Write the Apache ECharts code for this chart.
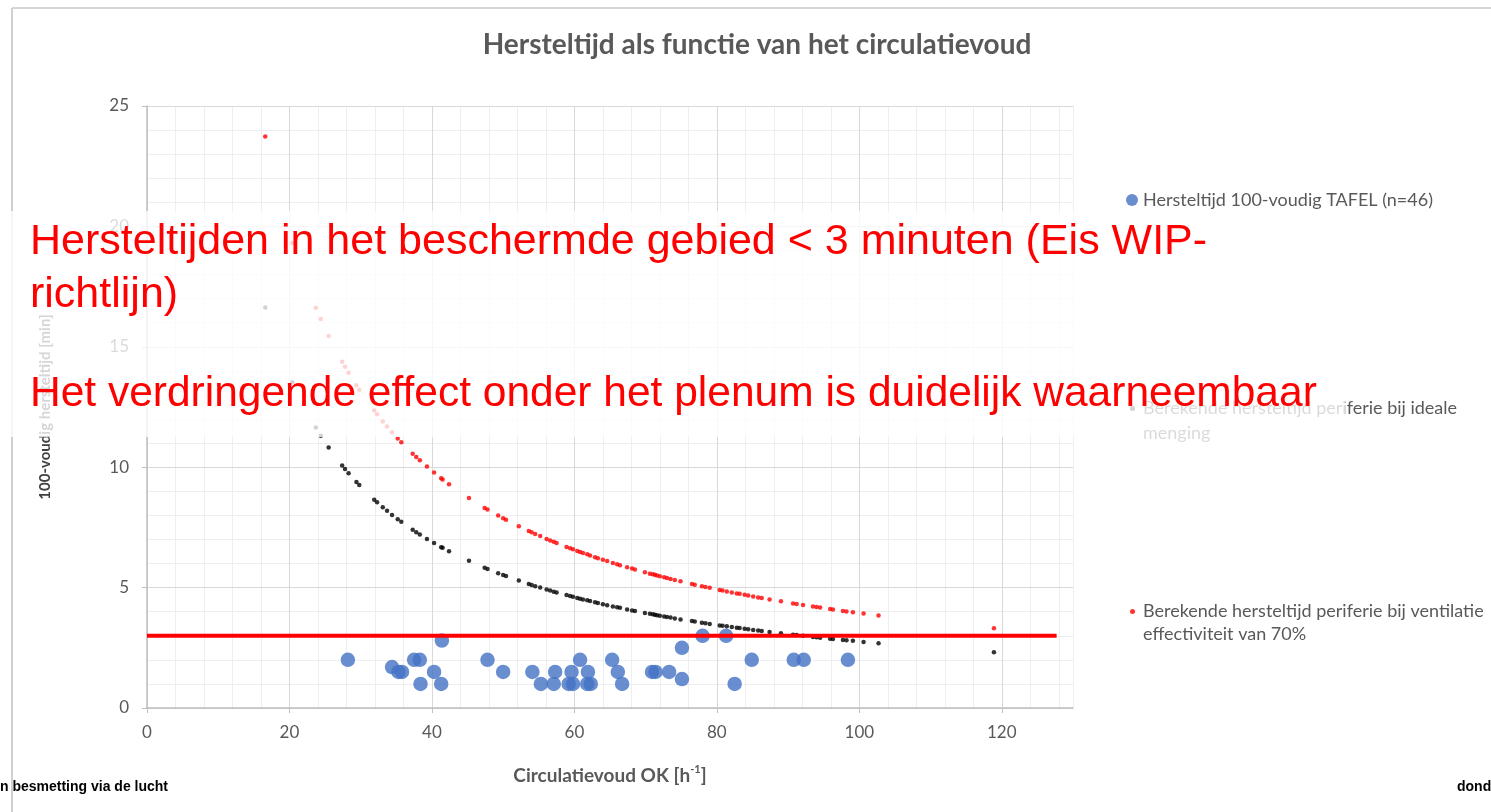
<!DOCTYPE html>
<html>
<head>
<meta charset="utf-8">
<script src="https://cdn.jsdelivr.net/npm/echarts@6/dist/echarts.min.js"></script>
<style>
html,body{margin:0;padding:0;background:#ffffff;}
#chart{width:1491px;height:812px;}
</style>
</head>
<body>
<div id="chart"></div>
<script>
// ---------- texts ----------
const titleText = 'Hersteltijd als functie van het circulatievoud';
const xAxisName = 'Circulatievoud OK [h{sup|-1}]';
const yAxisName = '100-voudig hersteltijd [min]';
const seriesNames = [
  'Hersteltijd 100-voudig TAFEL (n=46)',
  'Berekende hersteltijd periferie bij ideale menging',
  'Berekende hersteltijd periferie bij ventilatie effectiviteit van 70%'
];
// leading empty line keeps the first text line level with the legend dot
const legendLabels = [
  'Hersteltijd 100-voudig TAFEL (n=46)',
  '\nBerekende hersteltijd periferie bij ideale\nmenging',
  '\nBerekende hersteltijd periferie bij ventilatie\neffectiviteit van 70%'
];
const overlayLine1 = 'Hersteltijden in het beschermde gebied < 3 minuten (Eis WIP-';
const overlayLine2 = 'richtlijn)';
const overlayLine3 = 'Het verdringende effect onder het plenum is duidelijk waarneembaar';
const footerLeft = 'n besmetting via de lucht';
const footerRight = 'dond';

// ---------- tick labels ----------
const xTickLabels = [0, 20, 40, 60, 80, 100, 120];
const yTickLabels = [0, 5, 10, 15, 20, 25];

// ---------- measured recovery times (blue) ----------
const tafelX = [28.2, 34.4, 35.3, 35.8, 37.5, 38.3, 38.4, 40.3, 41.4, 41.3, 47.8, 50.0, 54.1, 55.3, 57.3, 57.1, 59.6, 59.2, 59.8, 60.8, 61.9, 61.8, 62.3, 65.3, 66.1, 66.7, 70.9, 71.4, 73.3, 75.1, 75.1, 78.0, 81.3, 82.5, 84.9, 90.8, 92.2, 98.4];
const tafelY = [2.0, 1.7, 1.5, 1.5, 2.0, 2.0, 1.0, 1.5, 2.8, 1.0, 2.0, 1.5, 1.5, 1.0, 1.5, 1.0, 1.5, 1.0, 1.0, 2.0, 1.5, 1.0, 1.0, 2.0, 1.5, 1.0, 1.5, 1.5, 1.5, 2.5, 1.2, 3.0, 3.0, 1.0, 2.0, 2.0, 2.0, 2.0];

// ---------- calculated recovery times (black / red) ----------
const calcX = [16.6,20.4,23.7,24.4,25.5,27.4,27.8,28.3,29.4,29.8,
  31.9,32.3,33.1,33.7,34.4,35.2,35.7,37.3,37.8,38.3,
  39.3,40.3,41.3,41.5,42.4,45.2,47.4,47.8,49.3,50.0,
  50.4,52.2,53.6,54.0,54.5,55.2,56.1,56.6,57.1,57.5,
  58.9,59.4,59.8,60.4,60.8,61.2,61.8,62.2,62.9,63.3,
  64.0,64.6,65.4,66.0,66.4,67.4,68.1,68.5,69.9,70.6,
  71.0,71.3,71.6,72.0,72.6,73.0,73.5,74.1,74.9,76.5,
  76.9,77.9,78.4,79.0,80.4,80.8,81.4,82.1,82.8,83.2,
  83.9,84.4,85.1,85.8,86.3,87.4,89.0,90.7,91.2,92.1,
  93.5,94.0,94.5,95.9,96.3,97.7,98.2,99.1,100.6,102.7,
  118.9];
const idealY = [16.63,13.53,11.65,11.31,10.82,10.07,9.93,9.75,9.39,9.26,
  8.65,8.54,8.34,8.19,8.02,7.84,7.73,7.40,7.30,7.21,
  7.02,6.85,6.68,6.65,6.51,6.11,5.82,5.77,5.60,5.52,
  5.48,5.29,5.15,5.11,5.06,5.00,4.92,4.88,4.83,4.80,
  4.69,4.65,4.62,4.57,4.54,4.51,4.47,4.44,4.39,4.36,
  4.31,4.27,4.22,4.18,4.16,4.09,4.05,4.03,3.95,3.91,
  3.89,3.87,3.85,3.83,3.80,3.78,3.76,3.72,3.68,3.61,
  3.59,3.54,3.52,3.49,3.43,3.42,3.39,3.36,3.33,3.32,
  3.29,3.27,3.24,3.22,3.20,3.16,3.10,3.04,3.03,3.00,
  2.95,2.94,2.92,2.88,2.87,2.82,2.81,2.79,2.74,2.69,
  2.32];
const vent70Y = [23.73,19.31,16.62,16.15,15.45,14.38,14.17,13.92,13.40,13.22,
  12.35,12.20,11.90,11.69,11.45,11.19,11.04,10.56,10.42,10.29,
  10.03,9.78,9.54,9.49,9.29,8.72,8.31,8.24,7.99,7.88,
  7.82,7.55,7.35,7.30,7.23,7.14,7.02,6.96,6.90,6.85,
  6.69,6.63,6.59,6.52,6.48,6.44,6.38,6.33,6.26,6.22,
  6.16,6.10,6.02,5.97,5.93,5.85,5.79,5.75,5.64,5.58,
  5.55,5.53,5.50,5.47,5.43,5.40,5.36,5.32,5.26,5.15,
  5.12,5.06,5.03,4.99,4.90,4.88,4.84,4.80,4.76,4.74,
  4.70,4.67,4.63,4.59,4.57,4.51,4.43,4.34,4.32,4.28,
  4.21,4.19,4.17,4.11,4.09,4.03,4.01,3.98,3.92,3.84,
  3.31];

// ---------- requirement line (3 minutes) ----------
const reqX = [0, 127.7];
const reqY = [3, 3];

// ---------- build ----------
const zip = (xs, ys) => xs.map((x, i) => [x, ys[i]]);
const labelColor = '#595959';
const fontMain = 'Lato, "Open Sans", sans-serif';
const fontArial = '"Liberation Sans", Arial, sans-serif';

const chart = echarts.init(document.getElementById('chart'), null, {renderer: 'canvas'});

const legendBase = {
  orient: 'vertical',
  padding: 0,
  icon: 'circle',
  selectedMode: false
};

chart.setOption({
  animation: false,
  backgroundColor: '#ffffff',
  title: {
    text: titleText,
    left: 757,
    top: 31,
    textAlign: 'center',
    padding: 0,
    textStyle: {fontFamily: fontMain, fontWeight: 'bold', fontSize: 28, color: labelColor}
  },
  grid: {left: 147, top: 106, width: 926, height: 602, containLabel: false, outerBoundsMode: 'none'},
  xAxis: [
    {
      type: 'value', min: 0, max: 130, interval: 20, position: 'bottom', z: 1,
      name: xAxisName, nameLocation: 'middle', nameGap: 56,
      nameTextStyle: {
        fontFamily: fontMain, fontWeight: 'bold', fontSize: 19, color: labelColor, lineHeight: 24,
        rich: {sup: {fontFamily: fontMain, fontWeight: 'bold', fontSize: 11, color: labelColor, lineHeight: 12, verticalAlign: 'top'}}
      },
      axisLine: {show: true, lineStyle: {color: '#bfbfbf', width: 1.5}},
      axisTick: {show: true, length: 5, customValues: xTickLabels, lineStyle: {color: '#bfbfbf'}},
      axisLabel: {
        customValues: xTickLabels,
        formatter: v => (xTickLabels.indexOf(v) >= 0 ? String(v) : ''),
        fontFamily: fontMain, fontSize: 17, color: labelColor, margin: 16
      },
      splitLine: {show: true, lineStyle: {color: '#d9d9d9', width: 1}}
    },
    {
      type: 'value', min: 0, max: 130, interval: 4, position: 'bottom', z: 0,
      axisLine: {show: false}, axisTick: {show: false}, axisLabel: {show: false},
      splitLine: {show: true, lineStyle: {color: '#eeeeee', width: 1}}
    }
  ],
  yAxis: [
    {
      type: 'value', min: 0, max: 25, interval: 5, position: 'left', z: 1,
      name: yAxisName, nameLocation: 'middle', nameGap: 94, nameRotate: 90,
      nameTextStyle: {fontFamily: fontMain, fontWeight: 'bold', fontSize: 15, color: '#404040'},
      axisLine: {show: true, lineStyle: {color: '#bfbfbf', width: 1.5}},
      axisTick: {show: true, length: 5, lineStyle: {color: '#bfbfbf'}},
      axisLabel: {
        formatter: v => (yTickLabels.indexOf(v) >= 0 ? String(v) : ''),
        fontFamily: fontMain, fontSize: 17, color: labelColor, margin: 18
      },
      splitLine: {show: true, lineStyle: {color: '#d9d9d9', width: 1}}
    },
    {
      type: 'value', min: 0, max: 25, interval: 1, position: 'left', z: 0,
      axisLine: {show: false}, axisTick: {show: false}, axisLabel: {show: false},
      splitLine: {show: true, lineStyle: {color: '#eeeeee', width: 1}}
    }
  ],
  legend: [
    Object.assign({}, legendBase, {
      data: [seriesNames[0]], left: 1126, top: 189, itemWidth: 12, itemHeight: 12,
      formatter: () => legendLabels[0],
      textStyle: {fontFamily: fontMain, fontSize: 18, color: labelColor, lineHeight: 22}
    }),
    Object.assign({}, legendBase, {
      data: [seriesNames[1]], left: 1130, top: 371, itemWidth: 5, itemHeight: 5,
      formatter: () => legendLabels[1],
      textStyle: {fontFamily: fontMain, fontSize: 18, color: labelColor, lineHeight: 25, padding: [0, 0, 0, 3]}
    }),
    Object.assign({}, legendBase, {
      data: [seriesNames[2]], left: 1130, top: 577, itemWidth: 5, itemHeight: 5,
      formatter: () => legendLabels[2],
      textStyle: {fontFamily: fontMain, fontSize: 18, color: labelColor, lineHeight: 23, padding: [0, 0, 0, 3]}
    })
  ],
  series: [
    {
      name: seriesNames[0], type: 'scatter', xAxisIndex: 0, yAxisIndex: 0,
      data: zip(tafelX, tafelY), symbol: 'circle', symbolSize: 14.5,
      itemStyle: {color: '#4472C4'}, z: 3, silent: true
    },
    {
      name: seriesNames[1], type: 'scatter', xAxisIndex: 0, yAxisIndex: 0,
      data: zip(calcX, idealY), symbol: 'circle', symbolSize: 4.5,
      itemStyle: {color: '#000000'}, z: 3, silent: true
    },
    {
      name: seriesNames[2], type: 'scatter', xAxisIndex: 0, yAxisIndex: 0,
      data: zip(calcX, vent70Y), symbol: 'circle', symbolSize: 4.5,
      itemStyle: {color: '#ff0000'}, z: 3, silent: true
    },
    {
      name: 'eis', type: 'line', xAxisIndex: 0, yAxisIndex: 0,
      data: zip(reqX, reqY), symbol: 'none',
      lineStyle: {color: '#ff0000', width: 4}, z: 5, silent: true
    }
  ],
  graphic: [
    {type: 'line', shape: {x1: 12, y1: 8, x2: 1491, y2: 8}, style: {stroke: '#d6d6d6', lineWidth: 2}, z: 1},
    {type: 'line', shape: {x1: 12, y1: 8, x2: 12, y2: 812}, style: {stroke: '#d0d0d0', lineWidth: 2}, z: 1},
    {type: 'rect', shape: {x: 0, y: 211, width: 1345, height: 226}, style: {fill: 'rgba(255,255,255,0.78)'}, z: 50, silent: true},
    {type: 'rect', shape: {x: 1100, y: 437, width: 245, height: 9}, style: {fill: 'rgba(255,255,255,0.78)'}, z: 50, silent: true},
    {type: 'text', x: 30, y: 242, z: 60, style: {text: overlayLine1, fontFamily: fontArial, fontSize: 43, fill: '#ff0000', verticalAlign: 'middle', align: 'left'}},
    {type: 'text', x: 30, y: 295, z: 60, style: {text: overlayLine2, fontFamily: fontArial, fontSize: 43, fill: '#ff0000', verticalAlign: 'middle', align: 'left'}},
    {type: 'text', x: 30, y: 394, z: 60, style: {text: overlayLine3, fontFamily: fontArial, fontSize: 42.5, fill: '#ff0000', verticalAlign: 'middle', align: 'left'}},
    {type: 'text', x: 0, y: 787, z: 60, style: {text: footerLeft, fontFamily: fontArial, fontWeight: 'bold', fontSize: 14, fill: '#000000', verticalAlign: 'middle', align: 'left'}},
    {type: 'text', x: 1457, y: 787, z: 60, style: {text: footerRight, fontFamily: fontArial, fontWeight: 'bold', fontSize: 14, fill: '#000000', verticalAlign: 'middle', align: 'left'}}
  ]
});
</script>
</body>
</html>
